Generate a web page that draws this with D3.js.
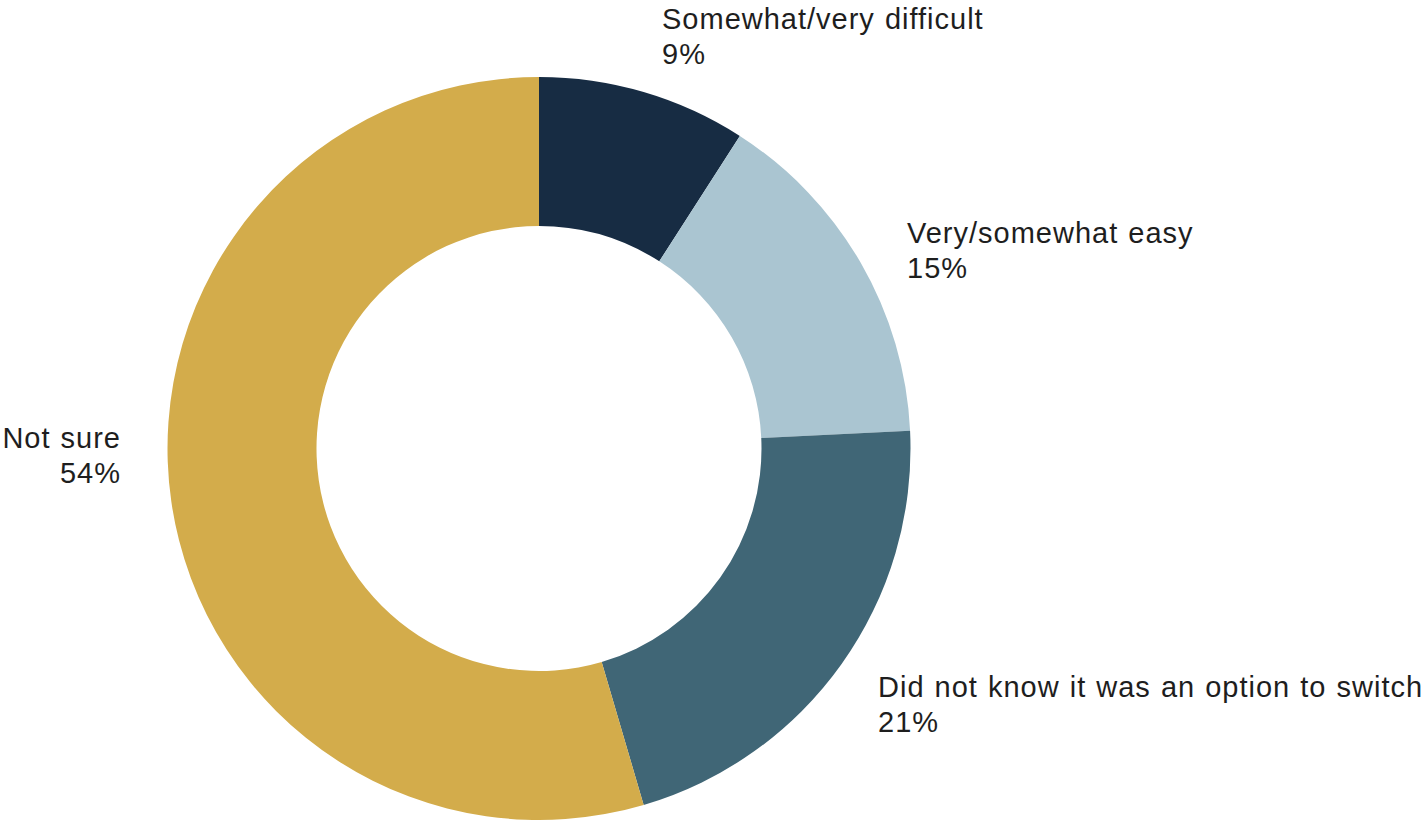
<!DOCTYPE html>
<html>
<head>
<meta charset="utf-8">
<script src="https://cdn.jsdelivr.net/npm/d3@7"></script>
<style>
  html, body { margin: 0; padding: 0; background: #fff; }
  svg { display: block; }
  text { font-family: "Liberation Sans", Arial, sans-serif; fill: #1e1e1e; }
</style>
</head>
<body>
<svg id="chart" width="1425" height="822"></svg>
<script>
// Survey responses, clockwise from 12 o'clock
const categories = ["Somewhat/very difficult", "Very/somewhat easy", "Did not know it was an option to switch", "Not sure"];
const values = [9, 15, 21, 54];
const colors = ["#172C43", "#AAC5D1", "#406676", "#D3AC4B"];
const valueLabels = ["9%", "15%", "21%", "54%"];

// Label placement: [x, baseline y, anchor]
const labelPos = [
  [662, 29, "start"],
  [907, 243, "start"],
  [878, 697, "start"],
  [121, 448, "end"]
];

const svg = d3.select("#chart");
const cx = 539, cy = 448.5;
const outerR = 371.5, innerR = 222.5;

const pie = d3.pie().sort(null).value(d => d.value);
const arc = d3.arc().innerRadius(innerR).outerRadius(outerR);

const data = categories.map((c, i) => ({ name: c, value: values[i], color: colors[i], label: valueLabels[i], pos: labelPos[i] }));

const g = svg.append("g").attr("transform", `translate(${cx},${cy})`);
g.selectAll("path")
  .data(pie(data))
  .join("path")
  .attr("d", arc)
  .attr("fill", d => d.data.color);

const labels = svg.selectAll("text.lbl")
  .data(data)
  .join("text")
  .attr("class", "lbl")
  .attr("text-anchor", d => d.pos[2])
  .style("font-size", "29px")
  .style("letter-spacing", "1px")
  .style("word-spacing", "1px");

labels.append("tspan")
  .attr("x", d => d.pos[0])
  .attr("y", d => d.pos[1])
  .text(d => d.name);
labels.append("tspan")
  .attr("x", d => d.pos[0])
  .attr("y", d => d.pos[1] + 35)
  .text(d => d.label);
</script>
</body>
</html>
